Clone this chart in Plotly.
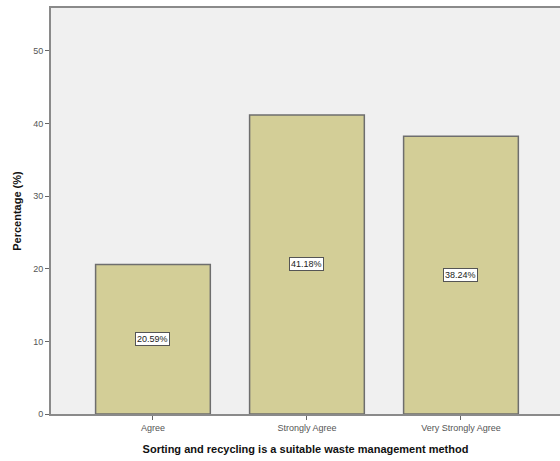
import plotly.graph_objects as go

categories = ["Agree", "Strongly Agree", "Very Strongly Agree"]
percentages = [20.59, 41.18, 38.24]
bar_labels = ["20.59%", "41.18%", "38.24%"]
y_ticks = [0, 10, 20, 30, 40, 50]

fig = go.Figure()
fig.add_trace(go.Bar(
    x=[0, 1, 2], y=percentages, width=0.745,
    marker=dict(color="#D3CE97", line=dict(color="#6E6E6E", width=1.5)),
    hoverinfo="skip", showlegend=False,
))
for i, (v, t) in enumerate(zip(percentages, bar_labels)):
    fig.add_annotation(
        x=i, y=v / 2, text=t, showarrow=False,
        font=dict(family="Arial, Liberation Sans", size=9, color="#222"),
        bgcolor="white", bordercolor="#555", borderwidth=1, borderpad=1,
    )

fig.update_layout(
    width=560, height=461,
    margin=dict(l=51, r=0, t=8, b=47, autoexpand=False),
    paper_bgcolor="white", plot_bgcolor="#F0F0F0",
    font=dict(family="Arial, Liberation Sans", color="#555"),
    xaxis=dict(
        range=[-0.662, 2.643], tickvals=[0, 1, 2], ticktext=categories,
        ticks="outside", ticklen=4, tickcolor="#666", showgrid=False,
        showline=True, linecolor="#8A8A8A", linewidth=2, mirror=True,
        automargin=False,
        tickfont=dict(size=9, color="#555"),
        title=dict(text="<b>Sorting and recycling is a suitable waste management method</b>",
                   font=dict(size=11, color="#111"), standoff=14),
    ),
    yaxis=dict(
        range=[0, 55.9], tickvals=y_ticks, ticks="outside", ticklen=4,
        tickcolor="#666", showgrid=False, zeroline=False,
        showline=True, linecolor="#8A8A8A", linewidth=2,
        automargin=False,
        tickfont=dict(size=9, color="#555"),
        title=dict(text="<b>Percentage (%)</b>", font=dict(size=11, color="#111"), standoff=9),
    ),
)
fig.write_html(
    "out.html",
    config={"responsive": False, "displayModeBar": False},
    post_script="document.body.style.margin='0';document.body.style.overflow='hidden';",
)
